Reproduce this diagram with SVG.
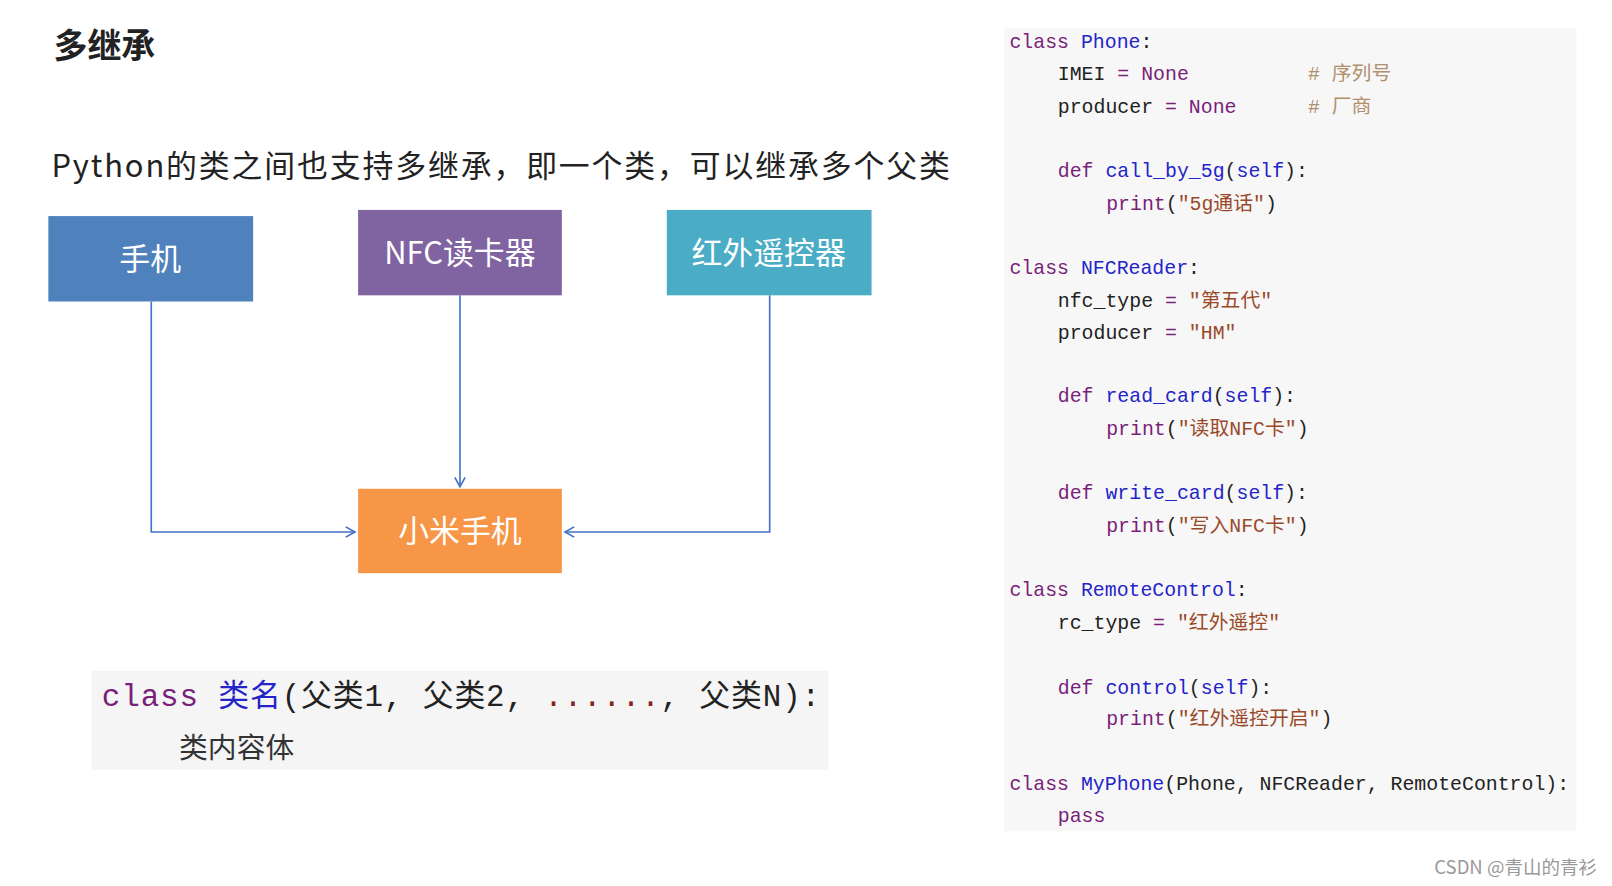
<svg xmlns="http://www.w3.org/2000/svg" width="1612" height="886" viewBox="0 0 1612 886">
<style>
.cjk{font-family:"Noto Sans CJK SC","Noto Sans",sans-serif}
.code{font-family:"Liberation Mono","Noto Sans CJK SC",monospace;font-size:19.3px;fill:#222}
.k{fill:#7a1f7a}.n{fill:#2424c8}.s{fill:#9a4a2a}.c{fill:#b0906c}
.box{font-family:"Noto Sans CJK SC",sans-serif;font-size:30px;fill:#fff;text-anchor:middle}
.edge{fill:none;stroke:#4472c4;stroke-width:1.6}
</style>
<defs><marker id="ar" markerWidth="12" markerHeight="12" refX="10" refY="6" orient="auto" markerUnits="userSpaceOnUse"><path d="M1,1 L10,6 L1,11" fill="none" stroke="#4472c4" stroke-width="1.6"/></marker></defs>
<rect width="1612" height="886" fill="#fff"/>
<g transform="scale(1.029)">
<text x="52" y="56" class="cjk" font-size="33" font-weight="bold" fill="#222">多继承</text>
<text x="50" y="172" class="cjk" font-size="30" fill="#222" textLength="873">Python的类之间也支持多继承，即一个类，可以继承多个父类</text>
<g id="connectors">
<path class="edge" d="M147,293 V517 H345" marker-end="url(#ar)"/>
<path class="edge" d="M447,287 V473" marker-end="url(#ar)"/>
<path class="edge" d="M748,287 V517 H549" marker-end="url(#ar)"/>
</g>
<g id="phone"><rect x="47" y="210" width="199" height="83" fill="#4f81bd"/><text x="146" y="262" class="box">手机</text></g>
<g id="nfc"><rect x="348" y="204" width="198" height="83" fill="#8064a2"/><text x="447" y="257" class="box">NFC读卡器</text></g>
<g id="rc"><rect x="648" y="204" width="199" height="83" fill="#4bacc6"/><text x="747" y="257" class="box">红外遥控器</text></g>
<g id="myphone"><rect x="348" y="475" width="198" height="82" fill="#f79646"/><text x="447" y="527" class="box">小米手机</text></g>
<g id="syntax">
<rect x="89" y="652" width="716" height="96" fill="#f5f5f5"/>
<text x="99" y="686" font-family="Liberation Mono,'Noto Sans CJK SC',monospace" font-size="30" fill="#222" textLength="698" xml:space="preserve"><tspan class="k">class</tspan> <tspan class="n">类名</tspan>(父类1, 父类2, <tspan fill="#8b2020">......</tspan>, 父类N):</text>
<text x="174" y="737" class="cjk" font-size="28" fill="#333">类内容体</text>
</g>
<g id="code">
<rect x="976" y="27" width="556" height="781" fill="#f7f7f7"/>
<text class="code" xml:space="preserve">
<tspan x="981" y="47"><tspan class="k">class</tspan> <tspan class="n">Phone</tspan>:</tspan>
<tspan x="1028" y="78">IMEI <tspan class="k">=</tspan> <tspan class="k">None</tspan>          <tspan class="c"># 序列号</tspan></tspan>
<tspan x="1028" y="110">producer <tspan class="k">=</tspan> <tspan class="k">None</tspan>      <tspan class="c"># 厂商</tspan></tspan>
<tspan x="1028" y="172"><tspan class="k">def</tspan> <tspan class="n">call_by_5g</tspan>(<tspan class="n">self</tspan>):</tspan>
<tspan x="1075" y="204"><tspan class="k">print</tspan>(<tspan class="s">"5g通话"</tspan>)</tspan>
<tspan x="981" y="266"><tspan class="k">class</tspan> <tspan class="n">NFCReader</tspan>:</tspan>
<tspan x="1028" y="298">nfc_type <tspan class="k">=</tspan> <tspan class="s">"第五代"</tspan></tspan>
<tspan x="1028" y="329">producer <tspan class="k">=</tspan> <tspan class="s">"HM"</tspan></tspan>
<tspan x="1028" y="391"><tspan class="k">def</tspan> <tspan class="n">read_card</tspan>(<tspan class="n">self</tspan>):</tspan>
<tspan x="1075" y="423"><tspan class="k">print</tspan>(<tspan class="s">"读取NFC卡"</tspan>)</tspan>
<tspan x="1028" y="485"><tspan class="k">def</tspan> <tspan class="n">write_card</tspan>(<tspan class="n">self</tspan>):</tspan>
<tspan x="1075" y="517"><tspan class="k">print</tspan>(<tspan class="s">"写入NFC卡"</tspan>)</tspan>
<tspan x="981" y="579"><tspan class="k">class</tspan> <tspan class="n">RemoteControl</tspan>:</tspan>
<tspan x="1028" y="611">rc_type <tspan class="k">=</tspan> <tspan class="s">"红外遥控"</tspan></tspan>
<tspan x="1028" y="674"><tspan class="k">def</tspan> <tspan class="n">control</tspan>(<tspan class="n">self</tspan>):</tspan>
<tspan x="1075" y="705"><tspan class="k">print</tspan>(<tspan class="s">"红外遥控开启"</tspan>)</tspan>
<tspan x="981" y="768"><tspan class="k">class</tspan> <tspan class="n">MyPhone</tspan>(Phone, NFCReader, RemoteControl):</tspan>
<tspan x="1028" y="799"><tspan class="k">pass</tspan></tspan>
</text>
</g>
<text x="1552" y="849" class="cjk" font-size="18" fill="#999" text-anchor="end">CSDN @青山的青衫</text>
</g>
</svg>
